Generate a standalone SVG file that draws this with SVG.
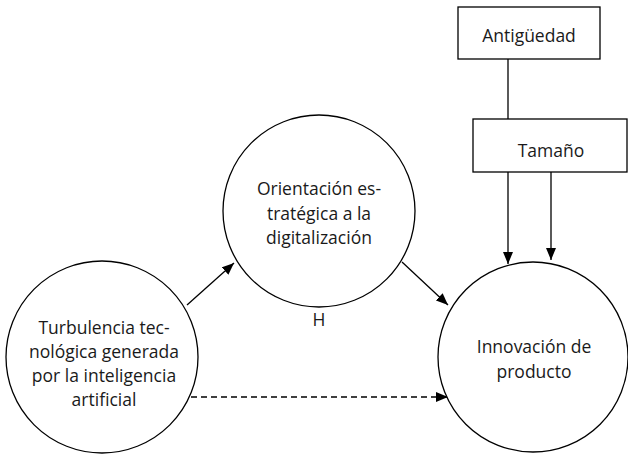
<svg xmlns="http://www.w3.org/2000/svg" width="628" height="454" viewBox="0 0 628 454">
<defs>
<marker id="ah" viewBox="0 0 12 10" refX="12" refY="5" markerWidth="12" markerHeight="10" markerUnits="userSpaceOnUse" orient="auto">
<path d="M0,0 L12,5 L0,10 Z" fill="#000"/>
</marker>
</defs>
<style>
.n{fill:#fff;stroke:#000;stroke-width:1.3}
.t{font-family:"Open Sans","Noto Sans","DejaVu Sans",sans-serif;font-size:17.5px;fill:#1a1a1a;text-anchor:middle}
.c{stroke:#000;stroke-width:1.3;fill:none}
.d{stroke-dasharray:6 4}
</style>
<rect width="628" height="454" fill="#fff"/>
<g id="connectors">
<line class="c" x1="508" y1="59" x2="508" y2="119"/>
<line class="c" x1="508" y1="172" x2="508" y2="264" marker-end="url(#ah)"/>
<line class="c" x1="551" y1="172" x2="551" y2="260" marker-end="url(#ah)"/>
<line class="c" x1="187" y1="305" x2="234" y2="263" marker-end="url(#ah)"/>
<line class="c" x1="402" y1="262" x2="448" y2="305" marker-end="url(#ah)"/>
<line class="c d" x1="191" y1="397" x2="448" y2="397" marker-end="url(#ah)"/>
</g>
<g id="antiguedad">
<rect class="n" x="458" y="7" width="142" height="52"/>
<text class="t" x="529" y="42">Antigüedad</text>
</g>
<g id="tamano">
<rect class="n" x="473" y="119" width="154" height="53"/>
<text class="t" x="551" y="157">Tamaño</text>
</g>
<g id="orientacion">
<circle class="n" cx="319" cy="211" r="96"/>
<text class="t" x="319" y="195">Orientación es-</text>
<text class="t" x="319" y="220">tratégica a la</text>
<text class="t" x="319" y="244">digitalización</text>
<text class="t" x="319" y="326">H</text>
</g>
<g id="turbulencia">
<circle class="n" cx="102" cy="357" r="96"/>
<text class="t" x="104" y="334">Turbulencia tec-</text>
<text class="t" x="104" y="358">nológica generada</text>
<text class="t" x="104" y="382">por la inteligencia</text>
<text class="t" x="104" y="406">artificial</text>
</g>
<g id="innovacion">
<circle class="n" cx="533" cy="357" r="95"/>
<text class="t" x="534" y="353">Innovación de</text>
<text class="t" x="534" y="378">producto</text>
</g>
</svg>
